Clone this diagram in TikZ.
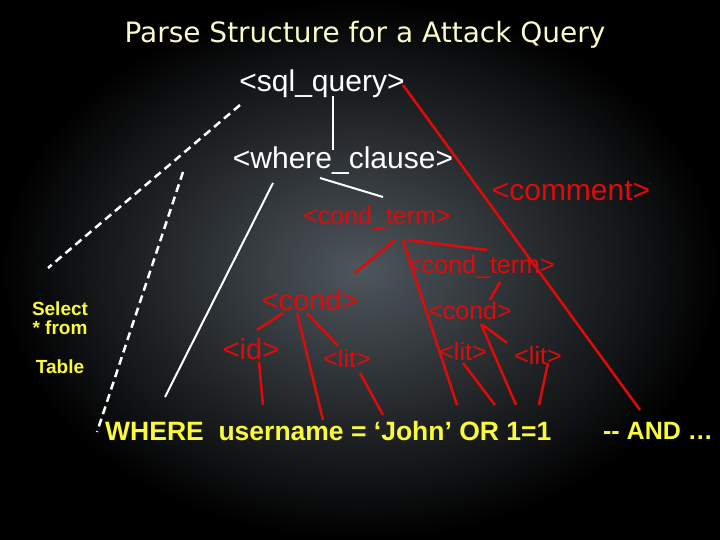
\documentclass[tikz,border=0pt]{standalone}
\usepackage{fontspec}
\setmainfont{Liberation Sans}
\newfontfamily\titlefont{DejaVu Sans}
\definecolor{rd}{RGB}{225,10,10}
\definecolor{yl}{RGB}{250,250,60}
\definecolor{bgc}{RGB}{78,86,92}
\tikzset{
 wt/.style={text=white,font=\fontsize{30}{32}\selectfont,inner sep=0pt},
 rt/.style={text=rd,font=\fontsize{#1}{28}\selectfont,inner sep=0pt},
 rt/.default=25,
 yt/.style={text=yl,font=\fontsize{26.5}{28}\selectfont\bfseries,inner sep=0pt},
 wl/.style={white,line width=2pt},
 dl/.style={white,line width=2.5pt,dash pattern=on 8pt off 5pt},
 rl/.style={rd,line width=2.5pt}
}
\begin{document}
\begin{tikzpicture}[x=1pt,y=-1pt]
\shade[inner color=bgc,outer color=black] (0,0) rectangle (720,540);
\useasboundingbox (0,0) rectangle (720,540);
\node[text={rgb,255:red,250;green,250;blue,200},font=\titlefont\fontsize{28}{30}\selectfont] (title) at (365,35) {Parse Structure for a Attack Query};
\node[wt] (sql) at (322,84) {<sql\_query>};
\node[wt] (wc) at (343,161) {<where\_clause>};
\node[rt] (ct1) at (377,218) {<cond\_term>};
\node[rt=30] (cm) at (571,191) {<comment>};
\node[rt] (ct2) at (481,267) {<cond\_term>};
\node[rt=29] (c1) at (310,300) {<cond>};
\node[rt] (c2) at (470,311) {<cond>};
\node[rt=29] (id) at (251,349) {<id>};
\node[rt] (l1) at (347,359) {<lit>};
\node[rt] (l2) at (463,352) {<lit>};
\node[rt] (l3) at (538,356) {<lit>};
\node[yt,anchor=west] (q) at (105,431) {WHERE\ \ username = ‘John’ OR 1=1};
\node[yt,font=\fontsize{25}{28}\selectfont\bfseries] (cmt) at (658,431) {-{}- AND …};
\node[text=yl,font=\fontsize{19}{21}\selectfont\bfseries,align=center,inner sep=0pt] (sel) at (60,318) {Select\\[-2pt]* from};
\node[text=yl,font=\fontsize{19}{21}\selectfont\bfseries,inner sep=0pt] (tab) at (60,367) {Table};
\coordinate (a1) at (240,105); \coordinate (a2) at (48,268);
\coordinate (b1) at (183,172); \coordinate (b2) at (97,432);
\draw[dl] (a1) -- (a2);
\draw[dl] (b1) -- (b2);
\coordinate (s1) at (333,96); \coordinate (s2) at (333,150);
\draw[wl] (s1) -- (s2);
\coordinate (w1) at (320,178); \coordinate (w2) at (383,197);
\draw[wl] (w1) -- (w2);
\coordinate (w3) at (273,183); \coordinate (w4) at (165,397);
\draw[wl] (w3) -- (w4);
\coordinate (r1) at (403,85); \coordinate (r2) at (640,410);
\draw[rl] (r1) -- (r2);
\coordinate (p1) at (395,240); \coordinate (p2) at (355,273);
\draw[rl] (p1) -- (p2);
\coordinate (p3) at (403,240); \coordinate (p4) at (457,405);
\draw[rl] (p3) -- (p4);
\coordinate (p5) at (408,240); \coordinate (p6) at (487,250);
\draw[rl] (p5) -- (p6);
\coordinate (p7) at (500,282); \coordinate (p8) at (490,300);
\draw[rl] (p7) -- (p8);
\coordinate (p9) at (481,324); \coordinate (p10) at (516,405);
\draw[rl] (p9) -- (p10);
\coordinate (p11) at (483,325); \coordinate (p12) at (507,343);
\draw[rl] (p11) -- (p12);
\coordinate (p13) at (463,363); \coordinate (p14) at (495,405);
\draw[rl] (p13) -- (p14);
\coordinate (p15) at (548,363); \coordinate (p16) at (539,405);
\draw[rl] (p15) -- (p16);
\coordinate (p17) at (283,313); \coordinate (p18) at (257,330);
\draw[rl] (p17) -- (p18);
\coordinate (p19) at (297,313); \coordinate (p20) at (323,420);
\draw[rl] (p19) -- (p20);
\coordinate (p21) at (307,313); \coordinate (p22) at (338,346);
\draw[rl] (p21) -- (p22);
\coordinate (p23) at (259,362); \coordinate (p24) at (263,405);
\draw[rl] (p23) -- (p24);
\coordinate (p25) at (360,373); \coordinate (p26) at (383,415);
\draw[rl] (p25) -- (p26);
\end{tikzpicture}
\end{document}
